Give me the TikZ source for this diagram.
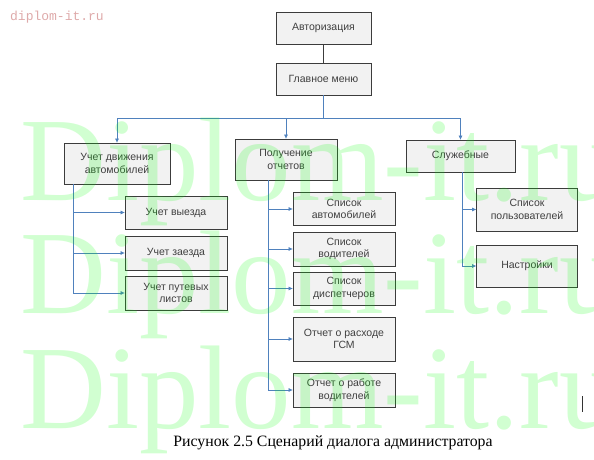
\documentclass[tikz,border=0pt]{standalone}
\usepackage{fontspec}
\setmainfont{Liberation Serif}
\setsansfont{Liberation Sans}
\setmonofont{Liberation Mono}
\usetikzlibrary{arrows.meta}
\definecolor{boxfill}{RGB}{242,242,242}
\definecolor{boxline}{RGB}{60,60,60}
\definecolor{linkblue}{RGB}{79,129,189}
\definecolor{pinkmark}{RGB}{222,170,170}
\begin{document}
\begin{tikzpicture}[x=1pt,y=-1pt,
  box/.style={draw=boxline, fill=boxfill, line width=0.8pt, align=center,
    font=\sffamily\fontsize{10.5}{12.5}\selectfont, inner sep=1pt, text=black!75},
  link/.style={draw=linkblue, line width=0.7pt},
  arr/.style={link, -{Triangle[length=4pt,width=3.5pt]}},
  wmark/.style={font=\rmfamily\fontsize{119}{119}\selectfont, text=green, text opacity=0.18, anchor=base west, inner sep=0pt}
]
\useasboundingbox (0,0) rectangle (594,460);
% boxes
\node[box, minimum width=95, minimum height=32] (auth) at (323.5,28) {Авторизация};
\node[box, minimum width=95, minimum height=32] (menu) at (323.5,79) {Главное меню};
\node[box, minimum width=106, minimum height=41] (uch) at (117,163.5) {Учет движения\\автомобилей};
\node[box, minimum width=102, minimum height=41] (pol) at (286,159.5) {Получение\\отчетов};
\node[box, minimum width=109, minimum height=32] (slu) at (460.5,156) {Служебные};
\node[box, minimum width=102, minimum height=33] (vyezd) at (176,212.5) {Учет выезда};
\node[box, minimum width=102, minimum height=34] (zaezd) at (176,253) {Учет заезда};
\node[box, minimum width=102, minimum height=34] (put) at (176,293) {Учет путевых\\листов};
\node[box, minimum width=102, minimum height=33] (sa) at (344,209) {Список\\автомобилей};
\node[box, minimum width=102, minimum height=34] (sv) at (344,249) {Список\\водителей};
\node[box, minimum width=102, minimum height=33] (sd) at (344,288.5) {Список\\диспетчеров};
\node[box, minimum width=102, minimum height=44] (gsm) at (344,339) {Отчет о расходе\\ГСМ};
\node[box, minimum width=102, minimum height=34] (rab) at (344,390) {Отчет о работе\\водителей};
\node[box, minimum width=101, minimum height=43] (spol) at (527,209.5) {Список\\пользователей};
\node[box, minimum width=101, minimum height=42] (nast) at (527,266) {Настройки};
% connectors
\draw[draw=boxline, line width=0.8pt] (auth.south) -- (menu.north);
\coordinate (bus) at (323.5,118);
\draw[link] (menu.south) -- (bus);
\draw[arr] (bus) -| (uch.north);
\draw[arr] (bus) -| (pol.north);
\draw[arr] (bus) -| (slu.north);
\draw[arr] ([xshift=-44]uch.south) |- (vyezd.west);
\draw[arr] ([xshift=-44]uch.south) |- (zaezd.west);
\draw[arr] ([xshift=-44]uch.south) |- (put.west);
\draw[arr] ([xshift=-18]pol.south) |- (sa.west);
\draw[arr] ([xshift=-18]pol.south) |- (sv.west);
\draw[arr] ([xshift=-18]pol.south) |- (sd.west);
\draw[arr] ([xshift=-18]pol.south) |- (gsm.west);
\draw[arr] ([xshift=-18]pol.south) |- (rab.west);
\draw[arr] ([xshift=1.5]slu.south) |- (spol.west);
\draw[arr] ([xshift=1.5]slu.south) |- (nast.west);
% caption
\node[font=\rmfamily\fontsize{15.8}{18}\selectfont] (cap) at (333,443) {Рисунок 2.5 Сценарий диалога администратора};
% small mark
\node[font=\ttfamily\fontsize{13}{15}\selectfont, text=pinkmark] (small) at (57,17) {diplom-it.ru};
% cursor
\coordinate (curA) at (582,396);
\coordinate (curB) at (582,412);
\draw[black!80, line width=0.9pt] (curA) -- (curB);
% watermark
\node[wmark] (w1) at (20,200) {Diplom-it.ru};
\node[wmark] (w2) at (20,313) {Diplom-it.ru};
\node[wmark] (w3) at (20,428) {Diplom-it.ru};
\end{tikzpicture}
\end{document}
